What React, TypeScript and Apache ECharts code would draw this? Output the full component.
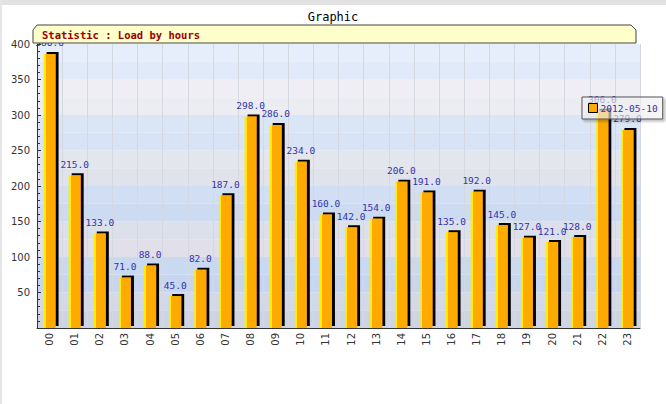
import React, { useEffect, useRef } from "react";
import * as echarts from "echarts";

const hours = ["00","01","02","03","04","05","06","07","08","09","10","11","12","13","14","15","16","17","18","19","20","21","22","23"];
const loads = [386, 215, 133, 71, 88, 45, 82, 187, 298, 286, 234, 160, 142, 154, 206, 191, 135, 192, 145, 127, 121, 128, 306, 279];
const seriesName = "2012-05-10";
const yTicks = [0, 50, 100, 150, 200, 250, 300, 350, 400];
const bandColors = [
  "#cdd5e4", "#d3d9e7", "#c6d6f0", "#cad9f2", "#e0dfea", "#dce0ea", "#cddbf2", "#d2def4",
  "#e0e3ec", "#e4e6ee", "#d8e4f5", "#dae6f6", "#ecedf3", "#eeeef4", "#e0eaf8", "#e6eefc",
];

const mono = "'DejaVu Sans Mono', monospace";
const sans = "'DejaVu Sans', sans-serif";

export default function App() {
  const ref = useRef<HTMLDivElement>(null);
  useEffect(() => {
    if (!ref.current) return;
    const chart = echarts.init(ref.current, null, { renderer: "svg" });
    chart.setOption({
      animation: false,
      backgroundColor: "#ffffff",
      title: {
        text: "Graphic",
        left: "center",
        top: 6,
        textStyle: { fontFamily: mono, fontSize: 12, fontWeight: "normal", color: "#000" },
      },
      legend: {
        data: [seriesName],
        left: 582,
        top: 97,
        icon: "rect",
        itemWidth: 9,
        itemHeight: 9,
        itemGap: 4,
        padding: [6, 5, 6, 6],
        backgroundColor: "rgba(255,255,255,0.55)",
        borderColor: "#555",
        borderWidth: 1,
        shadowColor: "rgba(0,0,0,0.35)",
        shadowBlur: 2,
        shadowOffsetX: 2,
        shadowOffsetY: 2,
        textStyle: { fontFamily: mono, fontSize: 9.5, color: "#3333aa", padding: [0, 0, 0, -2] },
        itemStyle: { color: "#ffaa00", borderColor: "#000", borderWidth: 1 },
      },
      grid: { left: 37, right: 26, top: 44, bottom: 76, containLabel: false },
      xAxis: {
        type: "category",
        data: hours,
        boundaryGap: true,
        axisLine: { lineStyle: { color: "#333", width: 1 } },
        axisTick: { inside: true, length: 4, lineStyle: { color: "#333" } },
        axisLabel: { rotate: 90, fontFamily: sans, fontSize: 10, color: "#333", margin: 5 },
        splitLine: { show: true, lineStyle: { color: "#d4d8e0", width: 1 } },
      },
      yAxis: [
        {
          type: "value",
          min: yTicks[0],
          max: yTicks[yTicks.length - 1],
          interval: 50,
          axisLine: { show: true, lineStyle: { color: "#333" } },
          axisTick: { show: true, inside: true, length: 4, lineStyle: { color: "#333" } },
          minorTick: { show: true, splitNumber: 5, length: 3, lineStyle: { color: "#333" } },
          axisLabel: { fontFamily: sans, fontSize: 10, color: "#333", margin: 7, showMinLabel: false },
          splitLine: { show: false },
          z: 5,
        },
        {
          type: "value",
          min: 0,
          max: 400,
          interval: 25,
          axisLine: { show: false },
          axisTick: { show: false },
          axisLabel: { show: false },
          splitLine: { show: false },
          splitArea: { show: true, areaStyle: { color: bandColors } },
        },
      ],
      graphic: [
        { type: "rect", shape: { x: 0, y: 0, width: 666, height: 5 }, style: { fill: "#e2e2e2" }, z: 100 },
        { type: "rect", shape: { x: 0, y: 0, width: 2, height: 404 }, style: { fill: "#e6e6e6" }, z: 100 },
        {
          type: "polygon",
          shape: {
            points: [[33, 30], [37, 25], [631, 25], [636, 30], [636, 43], [33, 43]],
          },
          style: { fill: "#ffffcc", stroke: "#444", lineWidth: 1 },
          z: 50,
        },
        {
          type: "text",
          x: 42,
          y: 35,
          style: {
            text: "Statistic : Load by hours",
            fill: "#990000",
            font: "bold 10.5px 'DejaVu Sans Mono', monospace",
            verticalAlign: "middle",
          },
          z: 51,
        },
      ],
      series: [
        {
          name: seriesName,
          type: "bar",
          data: loads,
          barWidth: 12,
          itemStyle: {
            color: {
              type: "linear",
              x: 0, y: 0, x2: 1, y2: 0,
              colorStops: [
                { offset: 0, color: "#ffee00" },
                { offset: 0.16, color: "#ffee00" },
                { offset: 0.17, color: "#ffaa00" },
                { offset: 1, color: "#ffaa00" },
              ],
            },
            shadowColor: "#000",
            shadowBlur: 0,
            shadowOffsetX: 3,
            shadowOffsetY: -2,
          },
          label: {
            show: true,
            position: "top",
            distance: 6,
            formatter: (p: any) => Number(p.value).toFixed(1),
            fontFamily: mono,
            fontSize: 9.5,
            color: "#3333aa",
          },
        },
      ],
    });
    return () => chart.dispose();
  }, []);
  return (
    <div
      ref={ref}
      style={{ position: "absolute", left: 0, top: 0, width: 666, height: 404 }}
    />
  );
}
